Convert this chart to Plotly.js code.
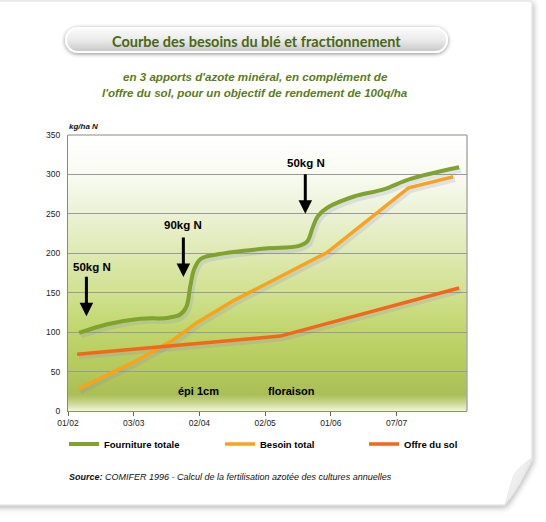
<!DOCTYPE html>
<html>
<head>
<meta charset="utf-8">
<script src="https://cdn.plot.ly/plotly-3.0.1.min.js"></script>
<style>
html,body{margin:0;padding:0;background:#fff;}
#chart{width:546px;height:522px;}
</style>
</head>
<body>
<div id="chart"></div>
<script>
// ---------- data ----------
const tickPositions = [0, 1, 2, 3, 4, 5];
const tickLabels = ["01/02", "03/03", "02/04", "02/05", "01/06", "07/07"];

const fournitureX = [0.17, 0.6, 1.1, 1.5, 1.7, 1.8, 1.86, 1.92, 2.02, 2.3, 3.0, 3.5, 3.64, 3.72, 3.8, 3.95, 4.35, 4.8, 5.2, 5.95];
const fournitureY = [99, 110, 117, 118, 122, 132, 158, 180, 193, 199, 206, 209, 215, 232, 247, 258, 272, 281, 294, 309];

const besoinX = [0.16, 1.0, 1.6, 1.96, 2.52, 3.94, 5.18, 5.86];
const besoinY = [28, 62, 90, 112, 140, 201, 283, 297];

const offreX = [0.14, 3.23, 5.95];
const offreY = [72, 95, 156];

const seriesNames = ["Fourniture totale", "Besoin total", "Offre du sol"];
const seriesColors = ["#7fa32c", "#f9a21c", "#f4661a"];

const apportLabels = ["50kg N", "90kg N", "50kg N"];
const apportX = [0.28, 1.755, 3.61];
const apportTipY = [120, 170, 250];
const apportLabelX = [0.37, 1.75, 3.62];
const apportLabelY = [182, 236, 315];

const stadeLabels = ["épi 1cm", "floraison"];
const stadeX = [1.98, 3.40];
const stadeY = [25, 25];

// ---------- geometry helpers ----------
const M = {l: 68, r: 79, t: 135, b: 111};
const PW = 546 - M.l - M.r, PH = 522 - M.t - M.b;
const px = v => (v - M.l) / PW;
const py = v => (522 - M.b - v) / PH;

// ---------- decorative background (card, title pill, plot gradient) ----------
const svg = `<svg xmlns='http://www.w3.org/2000/svg' width='546' height='522' viewBox='0 0 546 522'>
<defs>
<filter id='sh' x='-5%' y='-5%' width='110%' height='115%'>
<feGaussianBlur in='SourceAlpha' stdDeviation='3'/><feOffset dx='1' dy='2'/>
<feComponentTransfer><feFuncA type='linear' slope='0.3'/></feComponentTransfer>
<feMerge><feMergeNode/><feMergeNode in='SourceGraphic'/></feMerge></filter>
<filter id='sh2' x='-5%' y='-40%' width='110%' height='180%'>
<feGaussianBlur in='SourceAlpha' stdDeviation='2'/><feOffset dx='0' dy='1'/>
<feComponentTransfer><feFuncA type='linear' slope='0.45'/></feComponentTransfer>
<feMerge><feMergeNode/><feMergeNode in='SourceGraphic'/></feMerge></filter>
<linearGradient id='pg' x1='0' y1='0' x2='0' y2='1'>
<stop offset='0' stop-color='#ffffff'/>
<stop offset='0.14' stop-color='#f9fbf2'/>
<stop offset='0.28' stop-color='#ebf2d6'/>
<stop offset='0.57' stop-color='#d1e190'/>
<stop offset='0.71' stop-color='#c0d56c'/>
<stop offset='0.855' stop-color='#b3c95b'/>
<stop offset='0.94' stop-color='#a9be55'/>
<stop offset='0.97' stop-color='#c8d68e'/>
<stop offset='1' stop-color='#f2f3e0'/>
</linearGradient>
<linearGradient id='pill' x1='0' y1='0' x2='0' y2='1'>
<stop offset='0' stop-color='#fbfbfb'/>
<stop offset='0.5' stop-color='#ebebeb'/>
<stop offset='1' stop-color='#c6c6c6'/>
</linearGradient>
<linearGradient id='curl' x1='0' y1='0' x2='1' y2='1'>
<stop offset='0' stop-color='#ffffff'/>
<stop offset='1' stop-color='#d8d8d8'/>
</linearGradient>
</defs>
<rect x='0' y='0' width='546' height='522' fill='#ffffff'/>
<path d='M-10,1 H532 V460 Q518,488 505,505 H-10 Z' fill='#ffffff' stroke='#dcdcdc' stroke-width='1' filter='url(#sh)'/>
<path d='M532,458 Q514,470 512,480 Q508,494 505,505 Q520,488 532,458 Z' fill='url(#curl)' stroke='#e0e0e0' stroke-width='0.6'/>
<rect x='66' y='28' width='381' height='24' rx='12' ry='12' fill='url(#pill)' stroke='#ffffff' stroke-width='2' filter='url(#sh2)'/>
<rect x='68' y='135' width='399' height='276' fill='url(#pg)'/>
</svg>`;
const svgURI = 'data:image/svg+xml;charset=utf-8,' + encodeURIComponent(svg);

// ---------- traces ----------
const shadow = 'rgba(120,120,225,0.18)';
const traces = [];
// soft shadows (base subplot, slightly shifted axes)
traces.push({x: fournitureX, y: fournitureY, mode: 'lines', line: {color: shadow, width: 5, shape: 'spline', smoothing: 1}, xaxis: 'x', yaxis: 'y', showlegend: false, hoverinfo: 'skip'});
traces.push({x: besoinX, y: besoinY, mode: 'lines', line: {color: shadow, width: 4.5}, xaxis: 'x', yaxis: 'y', showlegend: false, hoverinfo: 'skip'});
traces.push({x: offreX, y: offreY, mode: 'lines', line: {color: shadow, width: 4.5}, xaxis: 'x', yaxis: 'y', showlegend: false, hoverinfo: 'skip'});
// main lines
traces.push({x: fournitureX, y: fournitureY, name: seriesNames[0], mode: 'lines', line: {color: seriesColors[0], width: 4, shape: 'spline', smoothing: 1}, xaxis: 'x2', yaxis: 'y2', legend: 'legend'});
traces.push({x: besoinX, y: besoinY, name: seriesNames[1], mode: 'lines', line: {color: seriesColors[1], width: 3.5}, xaxis: 'x2', yaxis: 'y2', legend: 'legend2'});
traces.push({x: offreX, y: offreY, name: seriesNames[2], mode: 'lines', line: {color: seriesColors[2], width: 3.5}, xaxis: 'x2', yaxis: 'y2', legend: 'legend3'});

// ---------- annotations ----------
const ann = [];
ann.push({xref: 'paper', yref: 'paper', x: px(256), y: py(41), text: '<b>Courbe des besoins du blé et fractionnement</b>', showarrow: false, font: {family: 'Lato, "Open Sans", sans-serif', size: 14.5, color: '#4a6712', weight: 900}, xanchor: 'center', yanchor: 'middle'});
ann.push({xref: 'paper', yref: 'paper', x: px(255.5), y: py(77), text: "<b><i>en 3 apports d'azote minéral, en complément de</i></b>", showarrow: false, font: {family: 'Liberation Sans, Arial, sans-serif', size: 11.6, color: '#5b7b1c'}, xanchor: 'center', yanchor: 'middle'});
ann.push({xref: 'paper', yref: 'paper', x: px(255), y: py(92), text: "<b><i>l'offre du sol, pour un objectif de rendement de 100q/ha</i></b>", showarrow: false, font: {family: 'Liberation Sans, Arial, sans-serif', size: 11.6, color: '#5b7b1c'}, xanchor: 'center', yanchor: 'middle'});
ann.push({xref: 'paper', yref: 'paper', x: px(67), y: py(126), text: '<b><i>kg/ha N</i></b>', showarrow: false, font: {family: 'Liberation Sans, Arial, sans-serif', size: 8, color: '#111'}, xanchor: 'left', yanchor: 'middle'});
ann.push({xref: 'paper', yref: 'paper', x: px(67), y: py(477), text: '<b><i>Source:</i></b><i> COMIFER 1996 - Calcul de la fertilisation azotée des cultures annuelles</i>', showarrow: false, font: {family: 'Liberation Sans, Arial, sans-serif', size: 9, color: '#111'}, xanchor: 'left', yanchor: 'middle'});
for (let i = 0; i < apportLabels.length; i++) {
  ann.push({xref: 'x2', yref: 'y2', x: apportX[i], y: apportTipY[i], ax: 0, ay: -41, text: '', showarrow: true, arrowhead: 2, arrowsize: 0.9, arrowwidth: 3, arrowcolor: '#000', standoff: 0});
  ann.push({xref: 'x2', yref: 'y2', x: apportLabelX[i], y: apportLabelY[i], text: '<b>' + apportLabels[i] + '</b>', showarrow: false, font: {family: 'Liberation Sans, Arial, sans-serif', size: 11.5, color: '#000'}, xanchor: 'center', yanchor: 'middle'});
}
for (let i = 0; i < stadeLabels.length; i++) {
  ann.push({xref: 'x2', yref: 'y2', x: stadeX[i], y: stadeY[i], text: '<b>' + stadeLabels[i] + '</b>', showarrow: false, font: {family: 'Liberation Sans, Arial, sans-serif', size: 11, color: '#000'}, xanchor: 'center', yanchor: 'middle'});
}

// ---------- layout ----------
const xr = [0, 6.07], yr = [0, 350];
const dx = 2 / PW * (xr[1] - xr[0]);
const dy = 3 / PH * (yr[1] - yr[0]);
const tickFont = {family: '"Liberation Sans Narrow", "Liberation Sans", Arial, sans-serif', size: 8.5, color: '#222'};
const legendFont = {family: 'Liberation Sans, Arial, sans-serif', size: 9.5, color: '#000', weight: 'bold'};
const mkLegend = leftPx => ({orientation: 'h', xref: 'container', yref: 'container', x: leftPx / 546, y: 1 - 444 / 522, xanchor: 'left', yanchor: 'middle', font: legendFont, bgcolor: 'rgba(0,0,0,0)'});

const layout = {
  width: 546, height: 522,
  margin: {l: M.l, r: M.r, t: M.t, b: M.b, pad: 0},
  paper_bgcolor: '#ffffff',
  plot_bgcolor: 'rgba(0,0,0,0)',
  showlegend: true,
  legend: mkLegend(64),
  legend2: mkLegend(220),
  legend3: mkLegend(364),
  xaxis: {range: [xr[0] - dx, xr[1] - dx], visible: false, fixedrange: true},
  yaxis: {range: [yr[0] + dy, yr[1] + dy], visible: false, fixedrange: true},
  xaxis2: {overlaying: 'x', range: xr, tickvals: tickPositions, ticktext: tickLabels, tickfont: tickFont, ticks: 'outside', ticklen: 4, tickcolor: '#666', showgrid: false, zeroline: false, showline: true, linecolor: '#8a9a4c', linewidth: 1, side: 'bottom'},
  yaxis2: {overlaying: 'y', range: yr, dtick: 50, tickfont: tickFont, ticks: '', ticklabelstandoff: 5, showgrid: true, gridcolor: '#9a9a9a', gridwidth: 1, zeroline: false, showline: true, linecolor: '#888', linewidth: 1, side: 'left'},
  images: [{source: svgURI, xref: 'paper', yref: 'paper', x: -M.l / PW, y: 1 + M.t / PH, sizex: 546 / PW, sizey: 522 / PH, xanchor: 'left', yanchor: 'top', sizing: 'stretch', layer: 'below'}],
  shapes: [
    {type: 'line', xref: 'paper', yref: 'paper', x0: 0, x1: 1, y0: 1, y1: 1, line: {color: '#888', width: 1}, layer: 'below'},
    {type: 'line', xref: 'paper', yref: 'paper', x0: 1, x1: 1, y0: 0, y1: 1, line: {color: '#aaa', width: 1.5}, layer: 'below'}
  ],
  annotations: ann
};

Plotly.newPlot('chart', traces, layout, {displayModeBar: false, staticPlot: true});
</script>
</body>
</html>
